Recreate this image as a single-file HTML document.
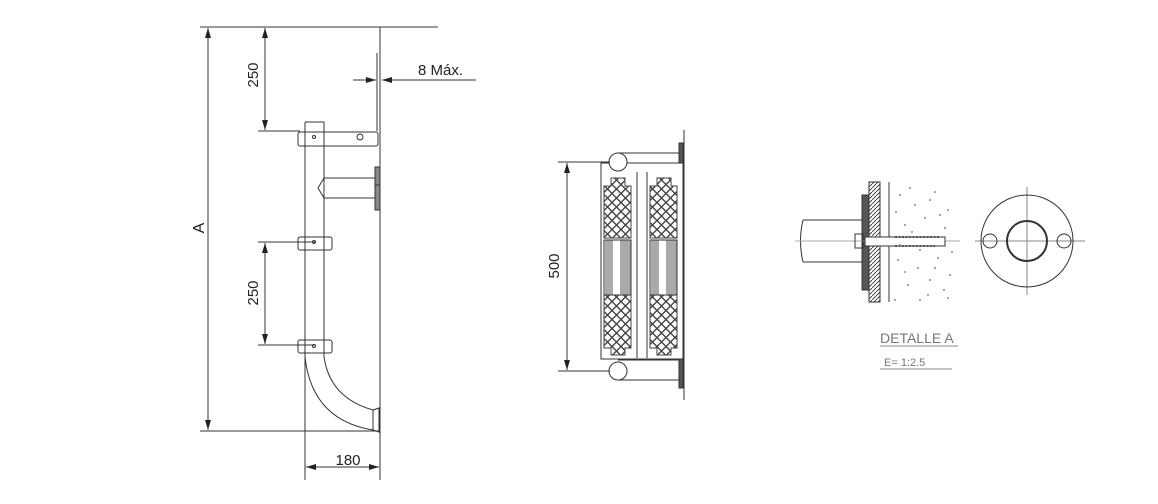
<!DOCTYPE html>
<html><head><meta charset="utf-8"><style>
html,body{margin:0;padding:0;background:#fff;}
svg{display:block;}
text{font-family:"Liberation Sans",sans-serif;fill:#222;}
</style></head><body>
<svg width="1158" height="504" viewBox="0 0 1158 504" xmlns="http://www.w3.org/2000/svg">
<defs>
<marker id="ar" markerWidth="10" markerHeight="6" refX="10" refY="3" orient="auto-start-reverse" markerUnits="userSpaceOnUse">
<path d="M0,0 L10,3 L0,6 z" fill="#222"/></marker>
<pattern id="lat" x="0" y="0" width="9" height="9" patternUnits="userSpaceOnUse">
<rect width="9" height="9" fill="#fff"/>
<path d="M0,4.5 L4.5,0 L9,4.5 L4.5,9 Z" fill="none" stroke="#444" stroke-width="1.4"/></pattern>
<pattern id="hat" width="4" height="4" patternUnits="userSpaceOnUse">
<path d="M0,4 L4,0" stroke="#333" stroke-width="0.9"/></pattern>
</defs>
<g stroke="#333" stroke-width="1" fill="none">
<!-- LEFT DRAWING -->
<line x1="200" y1="27" x2="438" y2="27"/>
<line x1="380" y1="27" x2="380" y2="480"/>
<line x1="200" y1="431" x2="380" y2="431"/>
<line x1="208" y1="28" x2="208" y2="430" marker-start="url(#ar)" marker-end="url(#ar)"/>
<line x1="265" y1="28" x2="265" y2="130" marker-start="url(#ar)" marker-end="url(#ar)"/>
<line x1="258" y1="131" x2="300" y2="131"/>
<line x1="265" y1="243" x2="265" y2="344" marker-start="url(#ar)" marker-end="url(#ar)"/>
<line x1="258" y1="242" x2="315" y2="242"/>
<line x1="258" y1="345" x2="315" y2="345"/>
<!-- 8 max -->
<line x1="377" y1="53" x2="377" y2="131"/>
<line x1="353" y1="80" x2="376" y2="80" marker-end="url(#ar)"/>
<line x1="476" y1="80" x2="382" y2="80" marker-end="url(#ar)"/>
<!-- post -->
<rect x="298" y="132" width="80" height="14" rx="2" fill="#fff"/>
<line x1="305" y1="122" x2="305" y2="480"/>
<line x1="324" y1="122" x2="324" y2="357"/>
<line x1="305" y1="122" x2="324" y2="122"/>
<circle cx="314" cy="137" r="1.5"/>
<circle cx="360" cy="137" r="3"/>
<!-- arm -->
<path d="M324,178 L375,178 M324,198 L375,198 M324,178 L318,188 L324,198"/>
<rect x="375" y="167" width="5" height="43" fill="#888"/>
<line x1="375" y1="185" x2="380" y2="185"/>
<!-- clamps -->
<rect x="298" y="237" width="34" height="13" rx="2" fill="none"/>
<circle cx="314" cy="242" r="1.5"/>
<rect x="298" y="340" width="34" height="13" rx="2" fill="none"/>
<circle cx="314" cy="346" r="1.5"/>
<!-- curve -->
<path d="M305,357 Q312,420 373,430"/>
<path d="M324,357 Q330,398 373,410"/>
<path d="M373,410 L379,408 L379,432 L373,430 Z"/>
<line x1="306" y1="467" x2="379" y2="467" marker-start="url(#ar)" marker-end="url(#ar)"/>

<!-- MIDDLE -->
<line x1="684" y1="130" x2="684" y2="400"/>
<rect x="679" y="143" width="4" height="37" fill="#555"/>
<rect x="679" y="352" width="4" height="36" fill="#555"/>
<line x1="618" y1="153" x2="679" y2="153"/>
<line x1="618" y1="163" x2="679" y2="163"/>
<line x1="618" y1="360" x2="679" y2="360"/>
<line x1="618" y1="380" x2="679" y2="380"/>
<rect x="601" y="163" width="82" height="196" fill="#fff"/>
<circle cx="618" cy="162" r="9" fill="#fff"/>
<circle cx="618" cy="371" r="9" fill="#fff"/>
<line x1="637" y1="172" x2="637" y2="358"/>
<line x1="647" y1="172" x2="647" y2="358"/>
<g fill="url(#lat)" stroke="#444">
<path d="M611,178 L625,178 L625,186 L631,186 L631,238 L604,238 L604,186 L611,186 Z"/>
<path d="M604,295 L631,295 L631,348 L625,348 L625,355 L611,355 L611,348 L604,348 Z"/>
<path d="M657,178 L671,178 L671,186 L677,186 L677,238 L650,238 L650,186 L657,186 Z"/>
<path d="M650,295 L677,295 L677,348 L671,348 L671,355 L657,355 L657,348 L650,348 Z"/>
</g>
<g fill="#aaa" stroke="none">
<rect x="605" y="240" width="8" height="55"/><rect x="620" y="240" width="11" height="55"/>
<rect x="651" y="240" width="8" height="55"/><rect x="666" y="240" width="11" height="55"/>
</g>
<rect x="604" y="240" width="27" height="55"/><rect x="650" y="240" width="27" height="55"/>
<line x1="558" y1="162" x2="610" y2="162"/>
<line x1="558" y1="371" x2="610" y2="371"/>
<line x1="567" y1="163" x2="567" y2="370" marker-start="url(#ar)" marker-end="url(#ar)"/>

<!-- RIGHT DETAIL -->
<rect x="869" y="182" width="11" height="120" fill="url(#hat)"/>
<line x1="889" y1="182" x2="889" y2="302"/>
<rect x="862" y="195" width="7" height="95" fill="#555"/>
<path d="M803,220 L862,220 M803,262 L862,262 M803,220 Q798,241 803,262" />
<line x1="795" y1="241" x2="960" y2="241" stroke="#aaa"/>
<rect x="855" y="234" width="8" height="14"/>
<rect x="865" y="237" width="80" height="9" fill="#fff"/>
<path d="M895,237 L940,237 M895,246 L935,246" stroke="#555" stroke-dasharray="2,1.5" stroke-width="2"/>
<line x1="1027" y1="187" x2="1027" y2="295" stroke="#888"/>
<line x1="975" y1="241" x2="1085" y2="241" stroke="#888"/>
<circle cx="1027" cy="241" r="46"/>
<circle cx="1027" cy="241" r="20" stroke-width="2"/>
<circle cx="990" cy="241" r="7"/>
<circle cx="1064" cy="241" r="7"/>
<line x1="880" y1="346" x2="958" y2="346" stroke="#888"/>
<line x1="880" y1="369" x2="952" y2="369" stroke="#888"/>
</g>
<g fill="#888">
<circle cx="900" cy="195" r="1"/><circle cx="915" cy="205" r="1"/><circle cx="935" cy="192" r="1"/><circle cx="948" cy="210" r="1"/>
<circle cx="905" cy="225" r="1"/><circle cx="925" cy="218" r="1"/><circle cx="945" cy="228" r="1"/><circle cx="898" cy="260" r="1"/>
<circle cx="918" cy="268" r="1"/><circle cx="938" cy="258" r="1"/><circle cx="950" cy="275" r="1"/><circle cx="908" cy="285" r="1"/>
<circle cx="928" cy="295" r="1"/><circle cx="944" cy="290" r="1"/><circle cx="895" cy="300" r="1"/><circle cx="920" cy="250" r="1"/>
<circle cx="910" cy="188" r="1"/><circle cx="930" cy="200" r="1"/><circle cx="896" cy="212" r="1"/><circle cx="940" cy="215" r="1"/>
<circle cx="912" cy="232" r="1"/><circle cx="952" cy="252" r="1"/><circle cx="905" cy="272" r="1"/><circle cx="930" cy="280" r="1"/>
<circle cx="920" cy="300" r="1"/><circle cx="948" cy="298" r="1"/><circle cx="900" cy="245" r="1"/><circle cx="935" cy="268" r="1"/>
</g>
<text x="348" y="465" font-size="15" text-anchor="middle">180</text>
<text x="418" y="75" font-size="15">8 Máx.</text>
<text font-size="15" transform="translate(258,75) rotate(-90)" text-anchor="middle">250</text>
<text font-size="15" transform="translate(258,293) rotate(-90)" text-anchor="middle">250</text>
<text font-size="16" transform="translate(204,228) rotate(-90)" text-anchor="middle">A</text>
<text font-size="15" transform="translate(559,266) rotate(-90)" text-anchor="middle">500</text>
<text x="880" y="343" font-size="14" style="fill:#777">DETALLE A</text>
<text x="884" y="366" font-size="11" style="fill:#777">E=  1:2.5</text>
</svg>
</body></html>
